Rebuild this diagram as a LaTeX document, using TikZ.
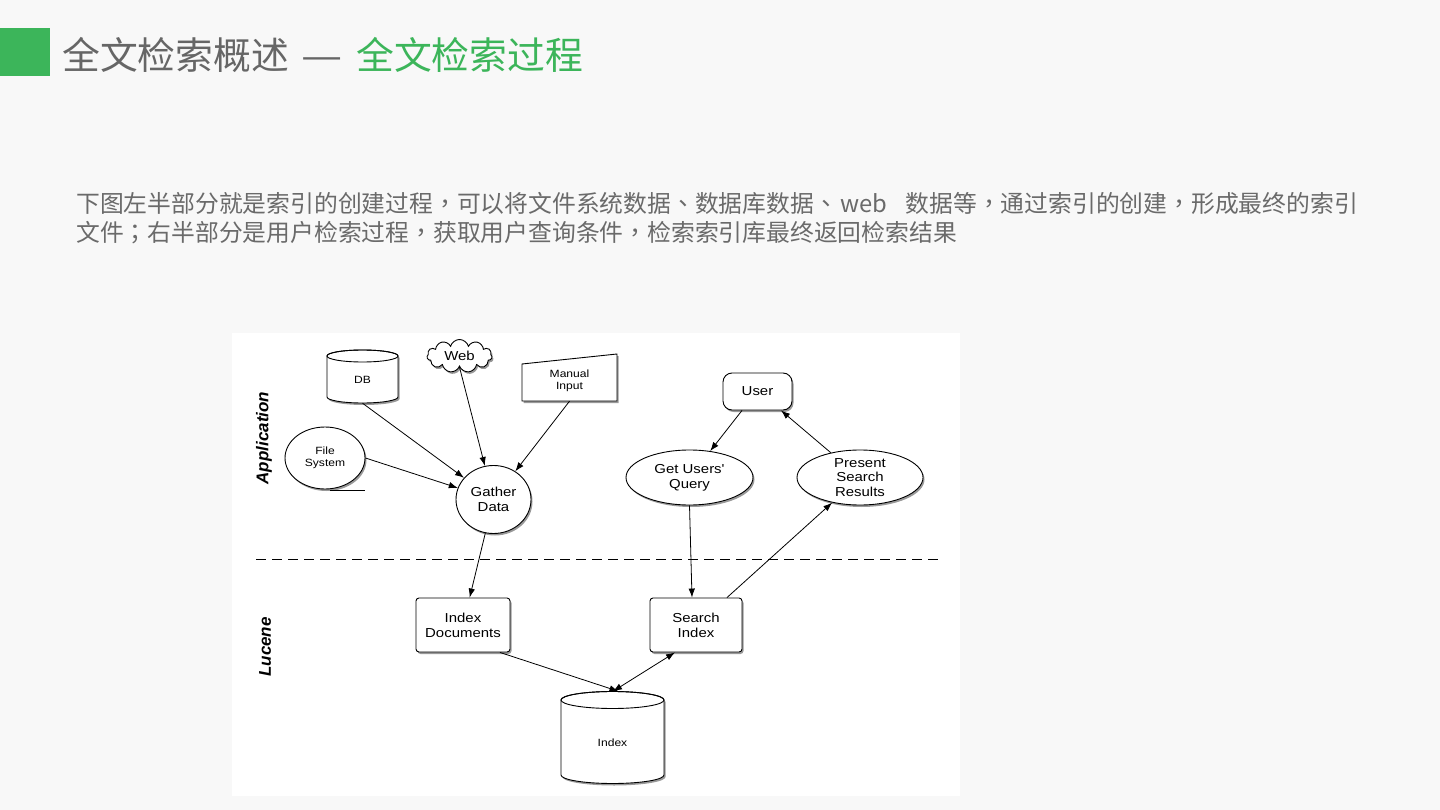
\documentclass[tikz,border=0pt]{standalone}
\usepackage{fontspec}
\usetikzlibrary{shapes.geometric,shapes.symbols,shadows,arrows.meta,calc}
\newfontfamily\cjk{Noto Sans CJK SC}
\newfontfamily\tcp{Noto Sans CJK TC}
\newfontfamily\diag[FakeStretch=1.15]{Liberation Sans}
\newfontfamily\lab{Liberation Sans}
\definecolor{bg}{HTML}{F8F8F8}
\definecolor{titlegreen}{HTML}{3CB55A}
\definecolor{titlegray}{HTML}{666666}
\definecolor{paragray}{HTML}{6A6A6A}
\newcommand{\pc}[1]{{\tcp #1}}
\begin{document}
\begin{tikzpicture}[x=1pt,y=-1pt,
  shd/.style={drop shadow={shadow xshift=1.5pt,shadow yshift=-2pt,opacity=0.4,fill=black}},
  box/.style={draw,fill=white,line width=0.9pt,shd,font=\diag\fontsize{13}{15}\selectfont,align=center,inner sep=0pt},
  small/.style={font=\diag\fontsize{10.5}{12}\selectfont,align=center,inner sep=0pt},
  arr/.style={-{Latex[length=9pt,width=6.5pt]},line width=0.8pt},
  darr/.style={{Latex[length=9pt,width=6.5pt]}-{Latex[length=9pt,width=6.5pt]},line width=0.8pt},
  side/.style={font=\lab\bfseries\itshape\fontsize{17}{19}\selectfont,rotate=90,inner sep=0pt},
  ttl/.style={anchor=base west,inner sep=0pt,font=\cjk\fontsize{37.8}{44}\selectfont},
  para/.style={anchor=base west,inner sep=0pt,text=paragray,font=\cjk\fontsize{23.8}{29}\selectfont}
]
\useasboundingbox (0,0) rectangle (1440,810);
\fill[bg] (0,0) rectangle (1440,810);
% title
\fill[titlegreen] (0,28) rectangle (50,76);
\node[ttl,text=titlegray] (title1) at (62,70) {全文检索概述};
\node[anchor=base,inner sep=0pt,text=titlegray,font=\cjk\fontsize{37.8}{44}\selectfont] (dash) at (322,70) {\scalebox{1.22}[1]{—}};
\node[ttl,text=titlegreen] (title2) at (356,70) {全文检索过程};
% paragraph
\node[para] (p1) at (76,213)
  {下图左半部分就是索引的创建过程\pc{，}可以将文件系统数据\pc{、}数据库数据\pc{、}\hspace{3pt}web\hspace{18pt}数据等\pc{，}通过索引的创建\pc{，}形成最终的索引};
\node[para] (p2) at (76,242)
  {文件\pc{；}右半部分是用户检索过程\pc{，}获取用户查询条件\pc{，}检索索引库最终返回检索结果};
% diagram canvas
\fill[white] (232,333) rectangle (960,796);
% side labels
\node[side] (app) at (264,438) {Application};
\node[side] (luc) at (265,647) {Lucene};
% dashed separator
\draw[dashed,line width=0.9pt,dash pattern=on 10pt off 6pt] (256,559) -- (943,559);
% DB cylinder
\path[draw,fill=white,line width=0.9pt,shd] (327,356) -- (327,397)
  arc[start angle=180,end angle=0,x radius=35.5,y radius=6] -- (398,356)
  arc[start angle=0,end angle=-180,x radius=35.5,y radius=6] -- cycle;
\draw[line width=0.9pt] (362.5,356) ellipse[x radius=35.5,y radius=6];
\node[small,minimum width=71,minimum height=46] (db) at (362.5,380) {DB};
% Index cylinder
\path[draw,fill=white,line width=0.9pt,shd] (561,700) -- (561,775)
  arc[start angle=180,end angle=0,x radius=51.5,y radius=8.5] -- (664,700)
  arc[start angle=0,end angle=-180,x radius=51.5,y radius=8.5] -- cycle;
\draw[line width=0.9pt] (612.5,700) ellipse[x radius=51.5,y radius=8.5];
\node[small,minimum width=103,minimum height=83] (idx) at (612.5,743) {Index};
% Manual input
\path[draw,fill=white,line width=0.9pt,shd] (522,364) -- (617,354) -- (617,401) -- (522,401) -- cycle;
\node[small,minimum width=95,minimum height=40] (mi) at (569.5,381) {Manual\\Input};
% other nodes
\node[box,cloud,cloud puffs=11,aspect=2.2,minimum width=65,minimum height=33] (web) at (459.5,356) {Web};
\node[box,ellipse,minimum width=80,minimum height=62,font=\diag\fontsize{10.5}{12}\selectfont] (fs) at (325,458) {File\\System};
\draw[line width=0.7pt] (330,490) -- (365,490);
\node[box,ellipse,minimum width=75,minimum height=68] (gd) at (493.5,499.5) {Gather\\Data};
\node[box,rounded corners=9,minimum width=69,minimum height=37] (user) at (757.5,391.5) {User};
\node[box,ellipse,minimum width=127,minimum height=55] (gq) at (689.5,477.5) {Get Users'\\Query};
\node[box,ellipse,minimum width=126,minimum height=55,font=\diag\fontsize{13}{14.5}\selectfont] (ps) at (860,477.5) {Present\\Search\\Results};
\node[box,rounded corners=3,minimum width=94,minimum height=54] (idoc) at (463,625) {Index\\Documents};
\node[box,rounded corners=3,minimum width=92,minimum height=54] (sidx) at (696,625) {Search\\Index};
% connectors
\draw[arr] (db.south) -- (gd);
\draw[arr] (web.south) -- (gd);
\draw[arr] (mi.south) -- (gd);
\draw[arr] (fs.east) -- (gd);
\draw[arr] (gd) -- (idoc);
\coordinate (u1) at ($(user.south)+(-15.5,0)$);
\coordinate (u2) at ($(user.south)+(23.5,0)$);
\draw[arr] (u1) -- (gq);
\draw[arr] (ps) -- (u2);
\coordinate (s1) at ($(sidx.north)+(-4,0)$);
\coordinate (s2) at ($(sidx.north)+(31,0)$);
\draw[arr] (gq.south) -- (s1);
\draw[arr] (s2) -- (ps);
\coordinate (d1) at ($(idoc.south)+(37,0)$);
\coordinate (i1) at ($(idx.north)+(6,-10)$);
\draw[arr] (d1) -- (i1);
\coordinate (s3) at ($(sidx.south)+(-21,0)$);
\coordinate (i2) at ($(idx.north)+(0.5,-10)$);
\draw[darr] (s3) -- (i2);
\end{tikzpicture}
\end{document}
